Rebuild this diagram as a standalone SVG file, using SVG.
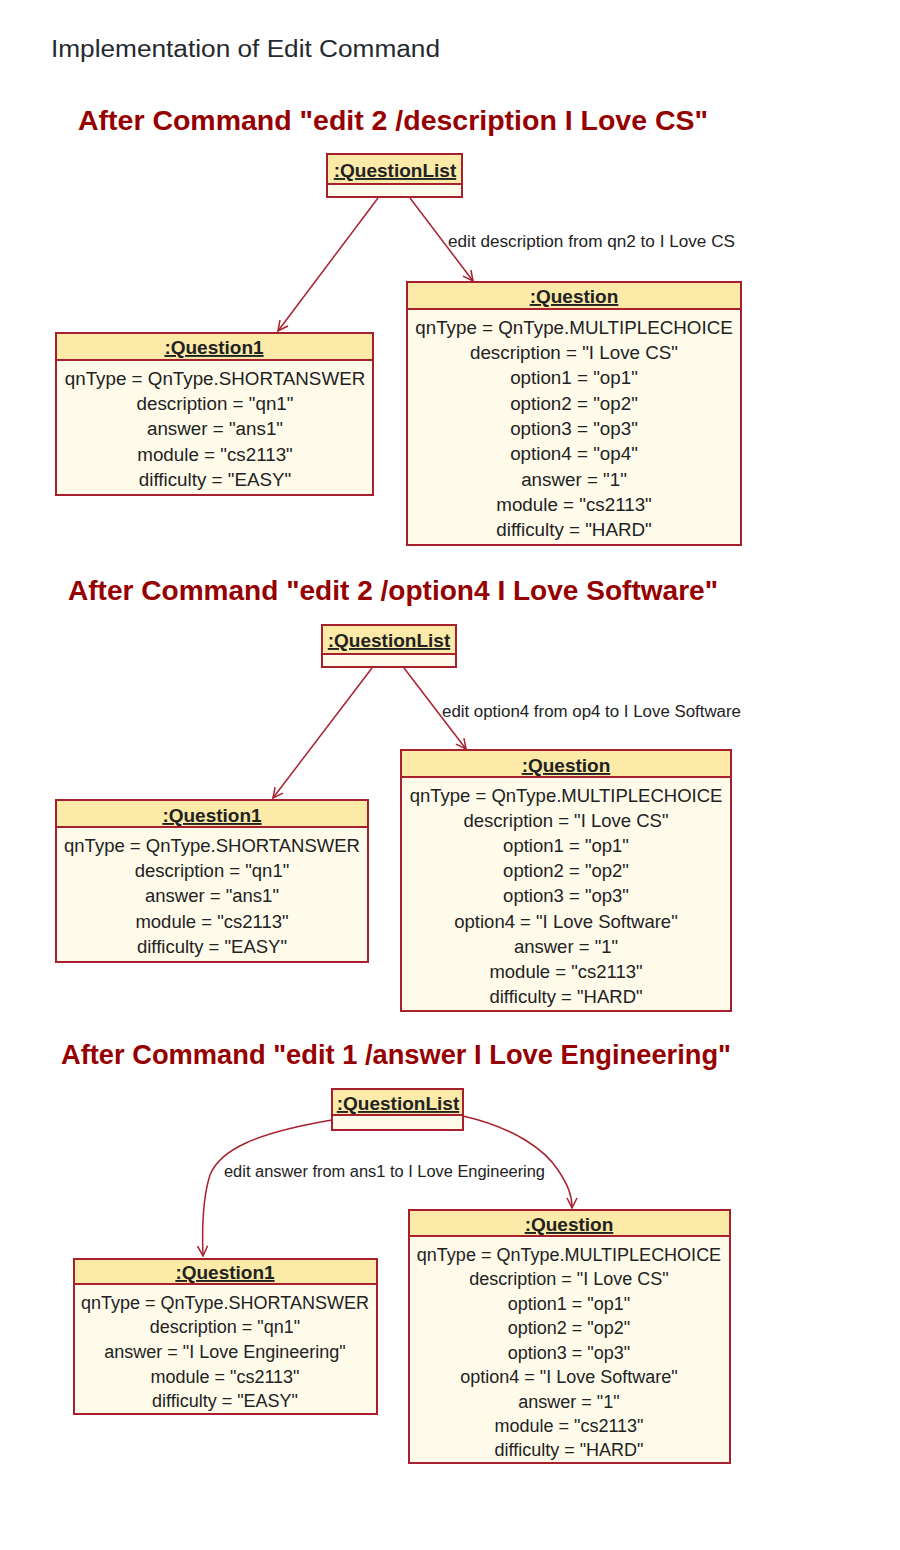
<svg xmlns="http://www.w3.org/2000/svg" width="900" height="1550" viewBox="0 0 900 1550">
<style>
.bg{fill:#ffffff}
.hd{fill:#fbeaa8;stroke:#a8202e;stroke-width:2}
.bd{fill:#fffbea;stroke:#a8202e;stroke-width:2}
.nm{font-family:"Liberation Sans",Arial,sans-serif;font-weight:bold;font-size:19px;fill:#222;text-anchor:middle;text-decoration:underline}
.at{font-family:"Liberation Sans",Arial,sans-serif;fill:#222;text-anchor:middle}
.ttl{font-family:"Liberation Sans",Arial,sans-serif;font-weight:bold;font-size:28px;fill:#960000}
.lbl{font-family:"Liberation Sans",Arial,sans-serif;font-size:16px;fill:#222}
.cn{fill:none;stroke:#a8202e;stroke-width:1.5}
</style>
<defs>
<marker id="arr" viewBox="0 0 12 12" refX="11" refY="6" markerWidth="12" markerHeight="12" markerUnits="userSpaceOnUse" orient="auto">
<path d="M1,1 L11,6 L1,11" fill="none" stroke="#a8202e" stroke-width="1.5"/>
</marker>
</defs>
<rect class="bg" x="0" y="0" width="900" height="1550"/>
<text x="51" y="57" font-family="'Liberation Sans',Arial,sans-serif" font-size="23" fill="#24292f" textLength="389" lengthAdjust="spacingAndGlyphs">Implementation of Edit Command</text>

<!-- Section 1 -->
<text class="ttl" x="78" y="130" textLength="630" lengthAdjust="spacingAndGlyphs">After Command "edit 2 /description I Love CS"</text>
<g id="connectors1">
<line class="cn" x1="378" y1="198" x2="278" y2="331" marker-end="url(#arr)"/>
<line class="cn" x1="410" y1="198" x2="473" y2="281" marker-end="url(#arr)"/>
<text class="lbl" x="448" y="247" textLength="287" lengthAdjust="spacingAndGlyphs">edit description from qn2 to I Love CS</text>
</g>
<g id="questionlist1">
<rect class="bd" x="327" y="154" width="135" height="43"/>
<rect class="hd" x="327" y="154" width="135" height="30"/>
<text class="nm" x="395" y="177">:QuestionList</text>
</g>
<g id="question1a">
<rect class="bd" x="56" y="333" width="317" height="162"/>
<rect class="hd" x="56" y="333" width="317" height="27"/>
<text class="nm" x="214" y="354">:Question1</text>
<g class="at" font-size="18.8">
<text x="215" y="385">qnType = QnType.SHORTANSWER</text>
<text x="215" y="410">description = "qn1"</text>
<text x="215" y="435">answer = "ans1"</text>
<text x="215" y="461">module = "cs2113"</text>
<text x="215" y="486">difficulty = "EASY"</text>
</g>
</g>
<g id="question2a">
<rect class="bd" x="407" y="282" width="334" height="263"/>
<rect class="hd" x="407" y="282" width="334" height="27"/>
<text class="nm" x="574" y="303">:Question</text>
<g class="at" font-size="18.8">
<text x="574" y="334">qnType = QnType.MULTIPLECHOICE</text>
<text x="574" y="359">description = "I Love CS"</text>
<text x="574" y="384">option1 = "op1"</text>
<text x="574" y="410">option2 = "op2"</text>
<text x="574" y="435">option3 = "op3"</text>
<text x="574" y="460">option4 = "op4"</text>
<text x="574" y="486">answer = "1"</text>
<text x="574" y="511">module = "cs2113"</text>
<text x="574" y="536">difficulty = "HARD"</text>
</g>
</g>

<!-- Section 2 -->
<text class="ttl" x="68" y="600" textLength="650" lengthAdjust="spacingAndGlyphs">After Command "edit 2 /option4 I Love Software"</text>
<g id="connectors2">
<line class="cn" x1="372" y1="668" x2="273" y2="798" marker-end="url(#arr)"/>
<line class="cn" x1="404" y1="668" x2="466" y2="749" marker-end="url(#arr)"/>
<text class="lbl" x="442" y="717" textLength="299" lengthAdjust="spacingAndGlyphs">edit option4 from op4 to I Love Software</text>
</g>
<g id="questionlist2">
<rect class="bd" x="322" y="625" width="134" height="42"/>
<rect class="hd" x="322" y="625" width="134" height="29"/>
<text class="nm" x="389" y="647">:QuestionList</text>
</g>
<g id="question1b">
<rect class="bd" x="56" y="800" width="312" height="162"/>
<rect class="hd" x="56" y="800" width="312" height="27"/>
<text class="nm" x="212" y="822">:Question1</text>
<g class="at" font-size="18.5">
<text x="212" y="852">qnType = QnType.SHORTANSWER</text>
<text x="212" y="877">description = "qn1"</text>
<text x="212" y="902">answer = "ans1"</text>
<text x="212" y="928">module = "cs2113"</text>
<text x="212" y="953">difficulty = "EASY"</text>
</g>
</g>
<g id="question2b">
<rect class="bd" x="401" y="750" width="330" height="261"/>
<rect class="hd" x="401" y="750" width="330" height="27"/>
<text class="nm" x="566" y="772">:Question</text>
<g class="at" font-size="18.5">
<text x="566" y="802">qnType = QnType.MULTIPLECHOICE</text>
<text x="566" y="827">description = "I Love CS"</text>
<text x="566" y="852">option1 = "op1"</text>
<text x="566" y="877">option2 = "op2"</text>
<text x="566" y="902">option3 = "op3"</text>
<text x="566" y="928">option4 = "I Love Software"</text>
<text x="566" y="953">answer = "1"</text>
<text x="566" y="978">module = "cs2113"</text>
<text x="566" y="1003">difficulty = "HARD"</text>
</g>
</g>

<!-- Section 3 -->
<text class="ttl" x="61" y="1064" textLength="670" lengthAdjust="spacingAndGlyphs">After Command "edit 1 /answer I Love Engineering"</text>
<g id="connectors3">
<path class="cn" d="M332,1120 C255,1133 220,1150 210,1175 C202,1200 202,1230 203,1256" marker-end="url(#arr)"/>
<path class="cn" d="M463,1116 C515,1128 545,1150 558,1170 C568,1185 572,1195 572,1208" marker-end="url(#arr)"/>
<text class="lbl" x="224" y="1177" textLength="321" lengthAdjust="spacingAndGlyphs">edit answer from ans1 to I Love Engineering</text>
</g>
<g id="questionlist3">
<rect class="bd" x="332" y="1089" width="131" height="41"/>
<rect class="hd" x="332" y="1089" width="131" height="26"/>
<text class="nm" x="398" y="1110" font-size="18">:QuestionList</text>
</g>
<g id="question1c">
<rect class="bd" x="74" y="1259" width="303" height="155"/>
<rect class="hd" x="74" y="1259" width="303" height="25"/>
<text class="nm" x="225" y="1279" font-size="18">:Question1</text>
<g class="at" font-size="18">
<text x="225" y="1309">qnType = QnType.SHORTANSWER</text>
<text x="225" y="1333">description = "qn1"</text>
<text x="225" y="1358">answer = "I Love Engineering"</text>
<text x="225" y="1383">module = "cs2113"</text>
<text x="225" y="1407">difficulty = "EASY"</text>
</g>
</g>
<g id="question2c">
<rect class="bd" x="409" y="1210" width="321" height="253"/>
<rect class="hd" x="409" y="1210" width="321" height="26"/>
<text class="nm" x="569" y="1231" font-size="18">:Question</text>
<g class="at" font-size="18">
<text x="569" y="1261">qnType = QnType.MULTIPLECHOICE</text>
<text x="569" y="1285">description = "I Love CS"</text>
<text x="569" y="1310">option1 = "op1"</text>
<text x="569" y="1334">option2 = "op2"</text>
<text x="569" y="1359">option3 = "op3"</text>
<text x="569" y="1383">option4 = "I Love Software"</text>
<text x="569" y="1408">answer = "1"</text>
<text x="569" y="1432">module = "cs2113"</text>
<text x="569" y="1456">difficulty = "HARD"</text>
</g>
</g>
</svg>
